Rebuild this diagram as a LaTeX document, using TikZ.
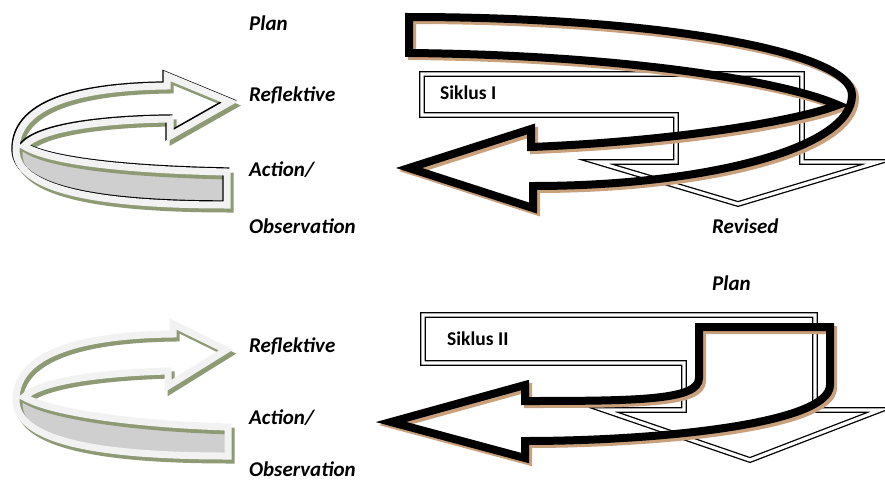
\documentclass[tikz,border=0pt]{standalone}
\usepackage{fontspec}
\setmainfont{Carlito}
\definecolor{olivesh}{HTML}{8E9A74}
\definecolor{brownsh}{HTML}{C9A07C}
\definecolor{lightst}{HTML}{F2F2F2}
\definecolor{grayband}{HTML}{CFCFCF}
\tikzset{
  lbl/.style={font=\fontsize{21}{25}\selectfont\bfseries\itshape, anchor=base west, inner sep=0pt},
  slbl/.style={font=\fontsize{19.5}{23}\selectfont\bfseries, anchor=base west, inner sep=0pt},
  dbl/.style={draw=black, double=white, double distance=3.2pt, line width=1.3pt, fill=white, line join=miter},
  blkline/.style={draw=black, line width=8pt, line join=miter},
  blkshadow/.style={draw=brownsh, line width=8pt, line join=miter, shift={(3,3)}},
  lightline/.style={draw=lightst, line width=7pt, line join=miter},
  oliveshadow/.style={draw=olivesh, line width=7pt, line join=miter, shift={(3,4)}},
  edgeline/.style={draw=black, line width=7pt, line join=miter, shift={(-1.2,-1.2)}},
}
\newcommand\ArrowA[1]{\draw[#1] (167,76) -- (230,102) -- (170,136) -- (170,119)
  .. controls (100,120) and (40,128) .. (24,146)
  .. controls (50,162) and (130,170) .. (227,172) -- (227,205)
  .. controls (120,205) and (16,195) .. (16,150)
  .. controls (16,100) and (90,87) .. (167,86) -- cycle;}
\newcommand\ArrowB[1]{\draw[#1] (173,324) -- (226,350) -- (168,386) -- (168,371)
  .. controls (100,373) and (40,381) .. (24,397)
  .. controls (50,412) and (130,424) .. (228,427) -- (228,456)
  .. controls (120,456) and (16,446) .. (16,400)
  .. controls (16,350) and (90,335) .. (173,334) -- cycle;}
\newcommand\BigA[1]{\draw[#1] (409,17) .. controls (650,17) and (852,50) .. (852,95)
  .. controls (852,150) and (700,186) .. (533,186) -- (533,208) -- (409,168)
  -- (531,129) -- (531,147) .. controls (680,141) and (800,120) .. (838,105)
  .. controls (780,80) and (620,55) .. (409,53) -- cycle;}
\newcommand\BigB[1]{\draw[#1] (699,327) -- (830,327) -- (830,385)
  .. controls (830,425) and (650,441) .. (525,441) -- (525,458) -- (391,422)
  -- (525,385) -- (525,401) .. controls (640,401) and (699,400) .. (699,378) -- cycle;}
\begin{document}
\begin{tikzpicture}[x=1pt,y=-1pt]
\useasboundingbox (0,0) rectangle (885,482);
% ---- left arrow, cycle I
\fill[grayband] (24,146) .. controls (50,162) and (130,170) .. (227,172) -- (227,205)
  .. controls (120,205) and (16,195) .. (16,150) -- cycle;
\ArrowA{oliveshadow}
\ArrowA{edgeline}
\ArrowA{lightline}
% ---- left arrow, cycle II
\fill[grayband] (24,397) .. controls (50,412) and (130,424) .. (228,427) -- (228,456)
  .. controls (120,456) and (16,446) .. (16,400) -- cycle;
\ArrowB{oliveshadow}
\ArrowB{lightline}
% ---- cycle I
\draw[dbl] (422,74) -- (802,74) -- (802,162) -- (878,162) -- (738,204) -- (597,162)
  -- (676,162) -- (676,115) -- (422,115) -- cycle;
\BigA{blkshadow}
\BigA{blkline}
% ---- cycle II
\draw[dbl] (423,315) -- (815,315) -- (815,410) -- (880,410) -- (750,460) -- (604,410)
  -- (684,410) -- (684,363) -- (423,363) -- cycle;
\BigB{blkshadow}
\BigB{blkline}
% ---- labels
\node[lbl] (plan1) at (249,30) {Plan};
\node[lbl] (refl1) at (249,101) {Reflektive};
\node[lbl] (act1) at (249,176) {Action/};
\node[lbl] (obs1) at (249,233) {Observation};
\node[lbl] (rev) at (712,233) {Revised};
\node[slbl] (sik1) at (440,99) {Siklus I};
\node[lbl] (refl2) at (249,352) {Reflektive};
\node[lbl] (act2) at (249,424) {Action/};
\node[lbl] (obs2) at (249,476) {Observation};
\node[lbl] (plan2) at (712,290) {Plan};
\node[slbl] (sik2) at (447,345) {Siklus II};
\end{tikzpicture}
\end{document}
